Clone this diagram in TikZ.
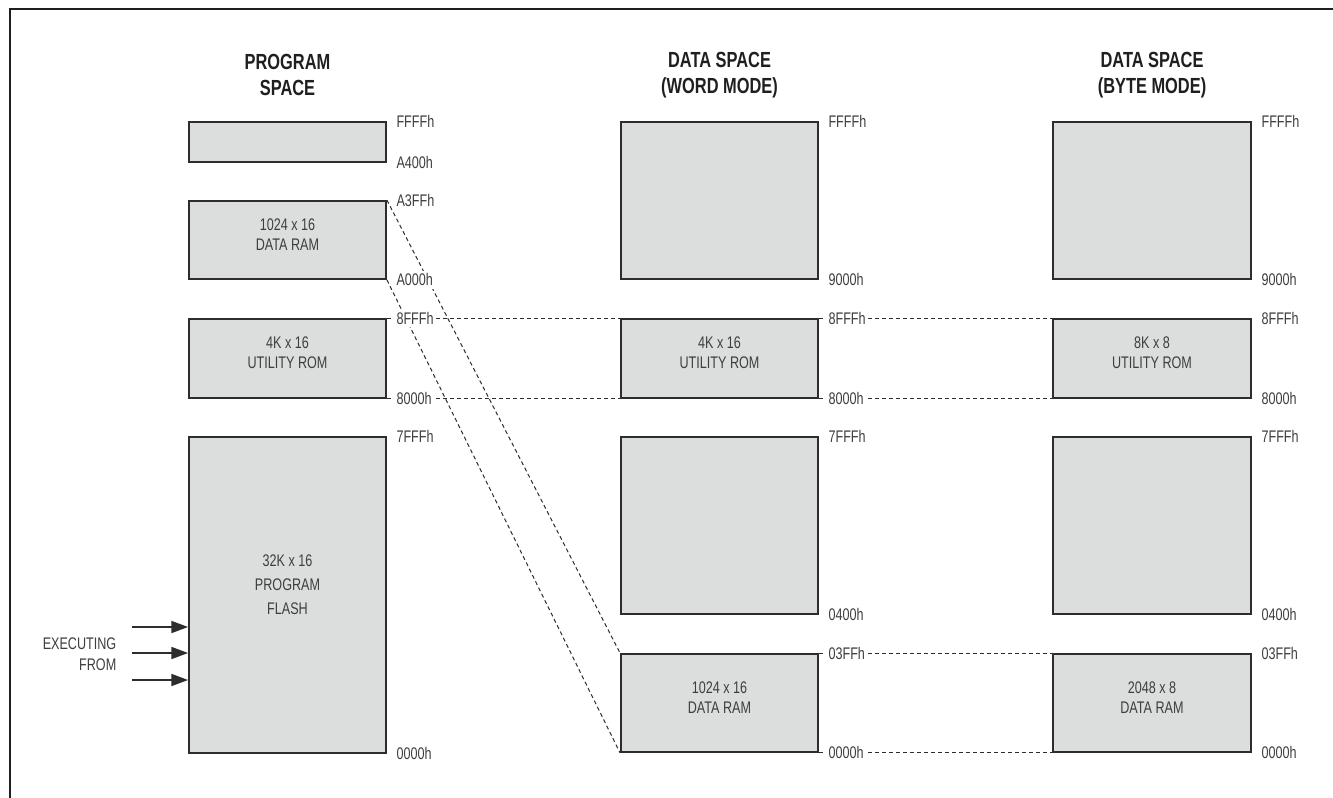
\documentclass[tikz,border=0pt]{standalone}
\usepackage{fontspec}
\setmainfont{Liberation Sans}[FakeStretch=0.75]
\usetikzlibrary{arrows.meta, positioning, fit}
\definecolor{cfill}{RGB}{220,221,221}
\definecolor{cline}{RGB}{45,45,45}
\definecolor{ctext}{RGB}{62,62,62}

\begin{document}
\begin{tikzpicture}[
  x=0.75pt, y=-0.75pt,
  mem/.style   = {rectangle, draw=cline, line width=1.4pt, fill=cfill,
                  inner sep=0pt, align=center, text=ctext,
                  font=\fontsize{12.6}{15}\selectfont},
  addr/.style  = {fill=white, inner sep=2pt, text=ctext,
                  font=\fontsize{12.6}{15}\selectfont},
  head/.style  = {align=center, text=black!88,
                  font=\fontsize{16.4}{19}\selectfont\bfseries},
  link/.style  = {cline, line width=0.75pt, dash pattern=on 3pt off 2.25pt},
  arr/.style   = {-{Triangle[length=12.5pt, width=9pt]}, line width=1.2pt, cline},
]
\useasboundingbox (0,0) rectangle (1333,797);
\clip (0,0) rectangle (1333,797);
\draw[line width=2.2pt, black!88] (10,9) rectangle (1400,900);
% Headings
\node[head] (hprog) at (287.5,75) {PROGRAM\\SPACE};
\node[head] (hword) at (719.5,75) {DATA SPACE\\(WORD MODE)};
\node[head] (hbyte) at (1152,75)  {DATA SPACE\\(BYTE MODE)};
% Column 1: program space
\node[mem, fit={(189,122) (386,162)}] (pspare) {};
\node[mem, fit={(189,201) (386,279)}] (pram)   {1024 x 16\\DATA RAM};
\node[mem, fit={(189,319) (386,398)}] (prom)   {4K x 16\\UTILITY ROM};
\node[mem, fit={(189,437) (386,753)}] (pflash) {};
\node[text=ctext, align=center, font=\fontsize{12.6}{18}\selectfont,
      yshift=8pt] (flashtxt) at (pflash.center) {32K x 16\\PROGRAM\\FLASH};
% Column 2: data space, word mode
\node[mem, fit={(621,122) (818,279)}] (wtop) {};
\node[mem, fit={(621,319) (818,398)}] (wrom) {4K x 16\\UTILITY ROM};
\node[mem, fit={(621,437) (818,614)}] (wlow) {};
\node[mem, fit={(621,654) (818,752)}] (wram) {1024 x 16\\DATA RAM};
% Column 3: data space, byte mode
\node[mem, fit={(1053,122) (1251,279)}] (btop) {};
\node[mem, fit={(1053,319) (1251,398)}] (brom) {8K x 8\\UTILITY ROM};
\node[mem, fit={(1053,437) (1251,614)}] (blow) {};
\node[mem, fit={(1053,654) (1251,752)}] (bram) {2048 x 8\\DATA RAM};
% Dashed links
\draw[link] (pram.north east) -- (wram.north west);
\draw[link] (pram.south east) -- (wram.south west);
\draw[link] (prom.north east) -- (wrom.north west);
\draw[link] (prom.south east) -- (wrom.south west);
\draw[link] (wrom.north east) -- (brom.north west);
\draw[link] (wrom.south east) -- (brom.south west);
\draw[link] (wram.north east) -- (bram.north west);
\draw[link] (wram.south east) -- (bram.south west);
% Addresses
\node[addr, right=5pt of pspare.north east] (pa1) {FFFFh};
\node[addr, right=5pt of pspare.south east] (pa2) {A400h};
\node[addr, right=5pt of pram.north east]   (pa3) {A3FFh};
\node[addr, right=5pt of pram.south east]   (pa4) {A000h};
\node[addr, right=5pt of prom.north east]   (pa5) {8FFFh};
\node[addr, right=5pt of prom.south east]   (pa6) {8000h};
\node[addr, right=5pt of pflash.north east] (pa7) {7FFFh};
\node[addr, right=5pt of pflash.south east] (pa8) {0000h};
\node[addr, right=5pt of wtop.north east] (wa1) {FFFFh};
\node[addr, right=5pt of wtop.south east] (wa2) {9000h};
\node[addr, right=5pt of wrom.north east] (wa3) {8FFFh};
\node[addr, right=5pt of wrom.south east] (wa4) {8000h};
\node[addr, right=5pt of wlow.north east] (wa5) {7FFFh};
\node[addr, right=5pt of wlow.south east] (wa6) {0400h};
\node[addr, right=5pt of wram.north east] (wa7) {03FFh};
\node[addr, right=5pt of wram.south east] (wa8) {0000h};
\node[addr, right=5pt of btop.north east] (ba1) {FFFFh};
\node[addr, right=5pt of btop.south east] (ba2) {9000h};
\node[addr, right=5pt of brom.north east] (ba3) {8FFFh};
\node[addr, right=5pt of brom.south east] (ba4) {8000h};
\node[addr, right=5pt of blow.north east] (ba5) {7FFFh};
\node[addr, right=5pt of blow.south east] (ba6) {0400h};
\node[addr, right=5pt of bram.north east] (ba7) {03FFh};
\node[addr, right=5pt of bram.south east] (ba8) {0000h};
% Executing from
\node[anchor=east, align=right, text=ctext,
      font=\fontsize{12.6}{16}\selectfont] (exec) at (121,654) {EXECUTING\\FROM};
\coordinate (ex1) at (132,627);
\coordinate (ex2) at (132,653);
\coordinate (ex3) at (132,680);
\draw[arr] (ex1) -- (ex1 -| pflash.west);
\draw[arr] (ex2) -- (ex2 -| pflash.west);
\draw[arr] (ex3) -- (ex3 -| pflash.west);
\end{tikzpicture}
\end{document}
